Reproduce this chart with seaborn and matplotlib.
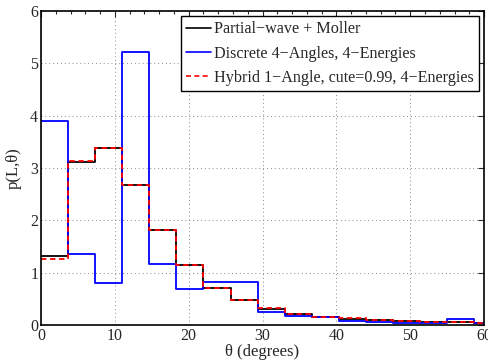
import numpy as np
import pandas as pd
import matplotlib
matplotlib.use("Agg")
import matplotlib.pyplot as plt
import seaborn as sns
from matplotlib.lines import Line2D
from matplotlib.ticker import MultipleLocator

# bin edges (degrees), width 11/3
edges = [0, 11/3, 22/3, 11, 44/3, 55/3, 22, 77/3, 88/3, 33, 110/3, 121/3, 44, 143/3, 154/3, 55, 176/3, 187/3]
partial_wave = [1.32, 3.12, 3.39, 2.68, 1.82, 1.14, 0.71, 0.48, 0.31, 0.21, 0.16, 0.12, 0.10, 0.08, 0.06, 0.05, 0.04]
discrete = [3.90, 1.36, 0.80, 5.21, 1.17, 0.69, 0.82, 0.82, 0.24, 0.17, 0.16, 0.08, 0.06, 0.04, 0.04, 0.11, 0.03]
hybrid = [1.27, 3.14, 3.39, 2.68, 1.81, 1.14, 0.71, 0.48, 0.32, 0.21, 0.16, 0.13, 0.10, 0.08, 0.06, 0.05, 0.04]
labels = ["Partial\u2212wave + Moller",
          "Discrete 4\u2212Angles, 4\u2212Energies",
          "Hybrid 1\u2212Angle, cute=0.99, 4\u2212Energies"]

centers = [(edges[i] + edges[i + 1]) / 2 for i in range(len(edges) - 1)]
df = pd.DataFrame({"theta": centers, "pw": partial_wave, "disc": discrete, "hyb": hybrid})

sns.set_style("white")
plt.rcParams["font.family"] = ["Liberation Serif", "DejaVu Serif"]

fig = plt.figure(figsize=(4.88, 3.61), dpi=100)
ax = fig.add_axes([0.084, 0.0997, 0.908, 0.8698])

sns.histplot(data=df, x="theta", weights="pw", bins=edges, element="step", fill=False,
             color="black", linewidth=1.3, ax=ax)
sns.histplot(data=df, x="theta", weights="disc", bins=edges, element="step", fill=False,
             color="#0000ff", linewidth=1.3, ax=ax)
sns.histplot(data=df, x="theta", weights="hyb", bins=edges, element="step", fill=False,
             color="#ff0000", linewidth=1.3, linestyle=(0, (3, 2)), ax=ax)

ax.set_xlim(0, 60)
ax.set_ylim(0, 6)
ax.xaxis.set_major_locator(MultipleLocator(10))
ax.xaxis.set_minor_locator(MultipleLocator(2))
ax.yaxis.set_major_locator(MultipleLocator(1))
ax.grid(True, which="major", linestyle=(0, (1, 3)), color="#888888", linewidth=0.7)
ax.tick_params(which="both", direction="in", top=True, right=True, labelsize=11.5, length=4, width=0.8, pad=2)
ax.tick_params(which="minor", length=2)
for s in ax.spines.values():
    s.set_linewidth(1.2)
    s.set_color("black")

ax.set_xlabel("\u03b8 (degrees)", fontsize=12, labelpad=0)
ax.set_ylabel("p(L,\u03b8)", fontsize=12, labelpad=6)

handles = [Line2D([], [], color="black", linewidth=1.2),
           Line2D([], [], color="#0000ff", linewidth=1.2),
           Line2D([], [], color="#ff0000", linewidth=1.2, linestyle=(0, (3, 2)))]
leg = ax.legend(handles, labels, loc="upper right", fontsize=11.6, frameon=True, fancybox=False,
                edgecolor="black", framealpha=1, handlelength=1.5, handletextpad=0.2,
                borderpad=0.35, labelspacing=0.5, borderaxespad=0.3)
leg.get_frame().set_linewidth(1.0)

fig.savefig("out.png", dpi=100)
